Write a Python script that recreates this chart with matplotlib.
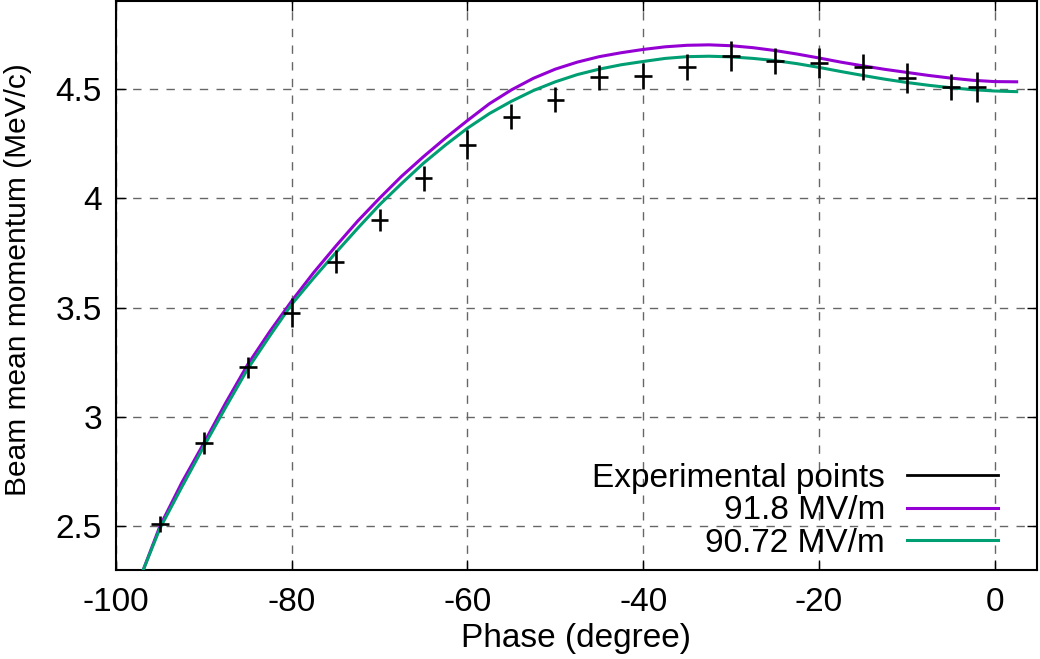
import numpy as np
import matplotlib.pyplot as plt
from matplotlib.lines import Line2D

plt.rcParams['font.family'] = ['Liberation Sans', 'DejaVu Sans']
plt.rcParams['axes.unicode_minus'] = False

# experimental points
phase = [-95, -90, -85, -80, -75, -70, -65, -60, -55, -50,
         -45, -40, -35, -30, -25, -20, -15, -10, -5, -2]
momentum = [2.51, 2.88, 3.227, 3.477, 3.709, 3.90, 4.09, 4.245, 4.373, 4.45,
            4.553, 4.559, 4.60, 4.65, 4.627, 4.618, 4.60, 4.55, 4.509, 4.509]
mom_err = [0.038, 0.05, 0.048, 0.068, 0.053, 0.05, 0.057, 0.066, 0.057, 0.058,
           0.057, 0.06, 0.06, 0.068, 0.06, 0.068, 0.06, 0.068, 0.06, 0.07]
phase_err = 1.0

# simulated curves
sim_phase = [-96.9, -95, -92.5, -90, -87.5, -85, -82.5, -80, -77.5, -75, -72.5,
             -70, -67.5, -65, -62.5, -60, -57.5, -55, -52.5, -50, -47.5, -45,
             -42.5, -40, -37.5, -35, -32.5, -30, -27.5, -25, -22.5, -20, -17.5,
             -15, -12.5, -10, -7.5, -5, -2.5, 0, 2.5]
sim_91_8 = [2.30, 2.50, 2.70, 2.88, 3.065, 3.24, 3.39, 3.53, 3.66, 3.78, 3.895,
            4.00, 4.10, 4.19, 4.275, 4.355, 4.432, 4.495, 4.548, 4.59, 4.622, 4.647,
            4.665, 4.68, 4.692, 4.699, 4.701, 4.697, 4.688, 4.675, 4.659, 4.641, 4.622,
            4.605, 4.589, 4.575, 4.561, 4.549, 4.539, 4.533, 4.532]
sim_90_72 = [2.30, 2.49, 2.68, 2.865, 3.045, 3.22, 3.37, 3.515, 3.635, 3.75, 3.862,
             3.97, 4.067, 4.16, 4.243, 4.32, 4.387, 4.443, 4.492, 4.532, 4.565, 4.59,
             4.61, 4.625, 4.639, 4.647, 4.649, 4.646, 4.639, 4.629, 4.615, 4.598, 4.579,
             4.561, 4.544, 4.529, 4.516, 4.505, 4.496, 4.490, 4.487]

purple = '#9400D3'
green = '#009E73'

fig = plt.figure(figsize=(10.4, 6.59), dpi=100)
ax = fig.add_axes([0.1115, 0.135, 0.8855, 0.863])

ax.plot(sim_phase, sim_91_8, color=purple, lw=2.2, zorder=3)
ax.plot(sim_phase, sim_90_72, color=green, lw=2.2, zorder=3)
ax.errorbar(phase, momentum, yerr=mom_err, xerr=phase_err, fmt='none',
            ecolor='black', elinewidth=1.9, capsize=0, zorder=4)

ax.set_xlim(-100, 4.8)
ax.set_ylim(2.3, 4.9)
ax.set_xticks([-100, -80, -60, -40, -20, 0])
ax.set_yticks([2.5, 3, 3.5, 4, 4.5])
ax.set_yticklabels(['2.5', '3', '3.5', '4', '4.5'])
ax.tick_params(direction='in', length=7, width=1, labelsize=24,
               top=True, right=True, pad=10)
ax.tick_params(axis='x', pad=12)
ax.grid(True, color='0.4', linestyle=(0, (6, 6)), lw=1)
for s in ax.spines.values():
    s.set_linewidth(1.5)

ax.set_xlabel('Phase (degree)', fontsize=24, labelpad=4)
ax.set_ylabel('Beam mean momentum (MeV/c)', fontsize=21.5, labelpad=17)
ax.yaxis.label.set_y(0.51)

handles = [Line2D([], [], color='black', lw=2),
           Line2D([], [], color=purple, lw=2.2),
           Line2D([], [], color=green, lw=2.2)]
labels = ['Experimental points', '91.8 MV/m', '90.72 MV/m']
ax.legend(handles, labels, loc='lower right', bbox_to_anchor=(0.958, 0.02),
          frameon=False, markerfirst=False, fontsize=24, handlelength=2.73,
          handletextpad=0.66, labelspacing=0.04, borderpad=0, borderaxespad=0)

fig.savefig('out.png', dpi=100)
